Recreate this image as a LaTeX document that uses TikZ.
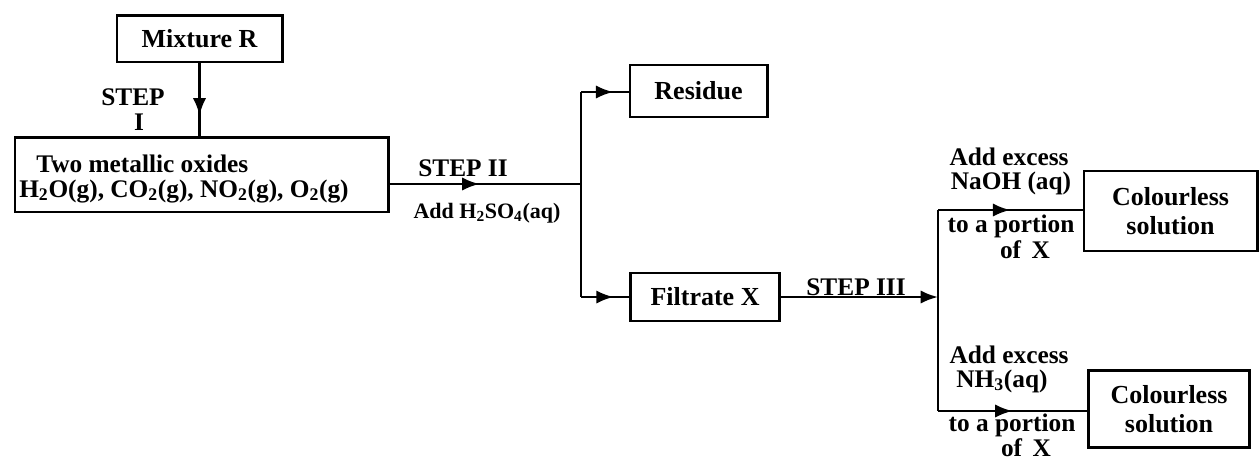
\documentclass[tikz,border=0pt]{standalone}
\usepackage{fontspec}
\setmainfont{Liberation Serif}
\usetikzlibrary{arrows.meta,decorations.markings}
\tikzset{
  box/.style={draw, line width=2pt, rectangle, inner sep=0pt, font=\fontsize{19.5}{22}\selectfont\bfseries, align=center},
  lab/.style={font=\fontsize{19}{22}\selectfont\bfseries, inner sep=0pt, align=center},
  conn/.style={line width=2pt},
  midarr/.style={conn, postaction={decorate}, decoration={markings, mark=at position #1 with {\arrow{Latex[length=13pt,width=10pt]}}}}
}
\newcommand{\sbs}[1]{\textsubscript{#1}}
\begin{document}
\begin{tikzpicture}[x=0.75pt,y=-0.75pt]
\useasboundingbox (0,0) rectangle (1259,462);
% boxes
\node[box, minimum width=124pt, minimum height=35pt] (mix) at (199.5,38.5) {Mixture R};
\node[box, minimum width=280pt, minimum height=56pt] (ox) at (201.5,174.5) {};
\node[lab, anchor=west] (oxa) at (36,164) {Two metallic oxides};
\node[lab, anchor=west] (oxb) at (19,191) {H\sbs{2}O(g), CO\sbs{2}(g), NO\sbs{2}(g), O\sbs{2}(g)};
\node[box, minimum width=103pt, minimum height=39pt] (res) at (698.5,91) {Residue};
\node[box, minimum width=112pt, minimum height=36pt] (fil) at (705,297) {Filtrate X};
\node[box, minimum width=130pt, minimum height=60pt] (cs1) at (1170.5,211) {Colourless\\solution};
\node[box, minimum width=121pt, minimum height=58pt] (cs2) at (1169,409) {Colourless\\solution};
% junctions
\coordinate (J1) at (581,184);
\coordinate (Jt) at (581,92);
\coordinate (Jb) at (581,297);
\coordinate (K) at (938,297);
\coordinate (Kt) at (938,210);
\coordinate (Kb) at (938,411);
% connectors
\draw[midarr=0.72] (mix.south) -- (mix.south |- ox.north);
\draw[midarr=0.47] (ox.east |- J1) -- (J1);
\draw[conn] (Jt) -- (Jb);
\draw[midarr=0.68] (Jt) -- (res.west |- Jt);
\draw[midarr=0.68] (Jb) -- (fil.west);
\draw[conn, -{Latex[length=13pt,width=10pt]}] (fil.east) -- (K);
\draw[conn] (Kt) -- (Kb);
\draw[midarr=0.5] (Kt) -- (cs1.west |- Kt);
\draw[midarr=0.5] (Kb) -- (cs2.west |- Kb);
% labels
\node[lab] (s1a) at (133,97) {STEP};
\node[lab] (s1b) at (139,122) {I};
\node[lab] (s2a) at (463,168) {STEP II};
\node[lab, font=\fontsize{16.5}{19}\selectfont\bfseries] (s2b) at (487,213) {Add H\sbs{2}SO\sbs{4}(aq)};
\node[lab] (s3) at (856,287) {STEP III};
\node[lab] (n1) at (1009,157) {Add excess};
\node[lab] (n2) at (1011,183) {NaOH (aq)};
\node[lab] (n3) at (1011,226) {to a portion};
\node[lab] (n4) at (1025,250) {of\, X};
\node[lab] (m1) at (1009,355) {Add excess};
\node[lab] (m2) at (1002,381) {NH\sbs{3}(aq)};
\node[lab] (m3) at (1012,425) {to a portion};
\node[lab] (m4) at (1026,448) {of\, X};
\end{tikzpicture}
\end{document}
